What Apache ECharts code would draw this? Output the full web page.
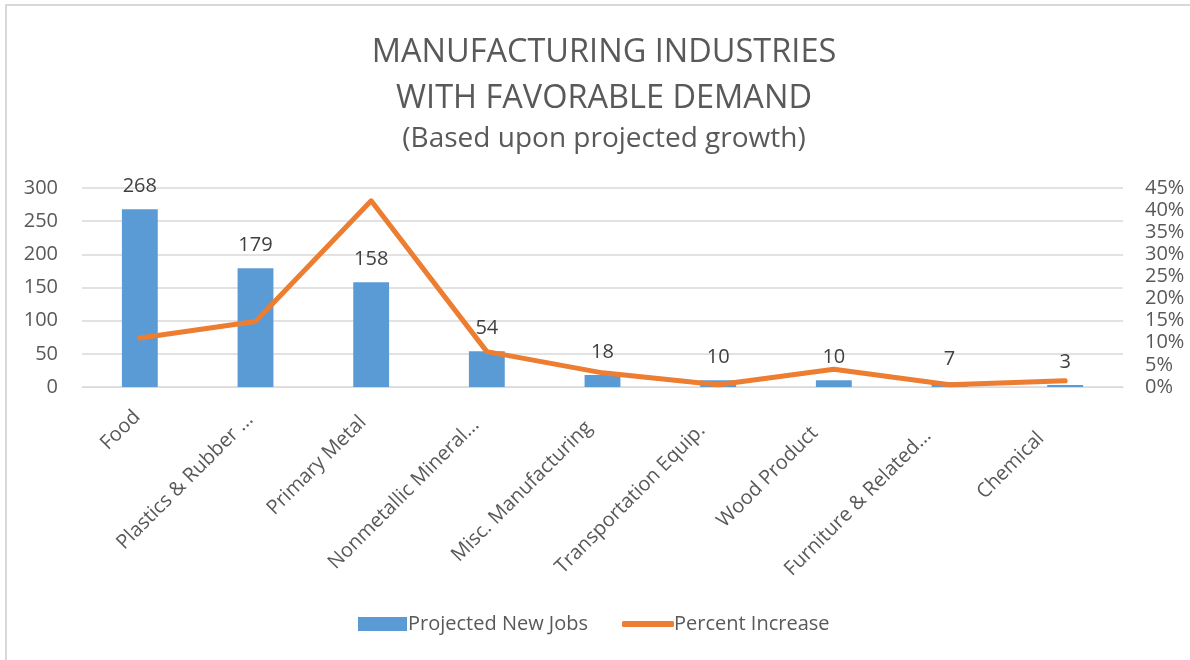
<!DOCTYPE html>
<html>
<head>
<meta charset="utf-8">
<script src="https://cdn.jsdelivr.net/npm/echarts@6/dist/echarts.min.js"></script>
<style>
  html, body { margin: 0; padding: 0; background: #fff; overflow: hidden; }
  #frame { position: absolute; left: 5px; top: 4px; width: 1200px; height: 680px; border: 2px solid #d9d9d9; box-sizing: border-box; }
  #chart { position: absolute; left: 0; top: 0; width: 1190px; height: 660px; }
</style>
</head>
<body>
<div id="frame"></div>
<div id="chart"></div>
<script>
// Industries ranked by projected new jobs
const categories = [
  'Food', 'Plastics & Rubber ...', 'Primary Metal', 'Nonmetallic Mineral...',
  'Misc. Manufacturing', 'Transportation Equip.', 'Wood Product',
  'Furniture & Related...', 'Chemical'
];
const projectedNewJobs = [268, 179, 158, 54, 18, 10, 10, 7, 3];
// Percent increase, as fractions
const percentIncrease = [0.111, 0.148, 0.421, 0.080, 0.032, 0.005, 0.040, 0.005, 0.014];
const jobTicks = [0, 50, 100, 150, 200, 250, 300];
const pctTicks = [0, 0.05, 0.10, 0.15, 0.20, 0.25, 0.30, 0.35, 0.40, 0.45];

const FONT = '"Open Sans", "Liberation Sans", sans-serif';
const TEXT = '#595959';
const TITLE_X = 599;

// Slanted category labels sit slightly further down their slant toward the right
const categoryItems = categories.map((name, i) => ({
  value: name,
  textStyle: { padding: [0, 4 + 3.8 * i, 0, 0] }
}));

const chart = echarts.init(document.getElementById('chart'), null, { renderer: 'canvas' });
chart.setOption({
  backgroundColor: 'transparent',
  animation: false,
  textStyle: { fontFamily: FONT },
  title: [
    {
      text: 'MANUFACTURING INDUSTRIES\nWITH FAVORABLE DEMAND',
      left: TITLE_X, top: 25, textAlign: 'center',
      textStyle: { fontFamily: FONT, fontSize: 32.5, fontWeight: 'normal', color: TEXT, lineHeight: 46 }
    },
    {
      text: '(Based upon projected growth)',
      left: TITLE_X, top: 120, textAlign: 'center',
      textStyle: { fontFamily: FONT, fontSize: 28, fontWeight: 'normal', color: TEXT }
    }
  ],
  legend: [
    {
      data: ['Projected New Jobs'],
      left: 353, top: 609,
      itemWidth: 49, itemHeight: 14, icon: 'rect',
      textStyle: { fontFamily: FONT, fontSize: 20, color: TEXT, padding: [0, 0, 0, -4] }
    },
    {
      data: ['Percent Increase'],
      left: 617, top: 609,
      itemWidth: 52, itemHeight: 6, icon: 'roundRect',
      textStyle: { fontFamily: FONT, fontSize: 20, color: TEXT, padding: [0, 0, 0, -5] }
    }
  ],
  grid: { left: 82, right: 67, top: 188, bottom: 273, containLabel: false },
  xAxis: {
    type: 'category',
    data: categoryItems,
    axisLine: { show: true, lineStyle: { color: '#d9d9d9', width: 1 } },
    axisTick: { show: false },
    axisLabel: {
      interval: 0, rotate: 45, margin: 24,
      fontFamily: FONT, fontSize: 20, color: TEXT
    }
  },
  yAxis: [
    {
      type: 'value', min: jobTicks[0], max: jobTicks[jobTicks.length - 1], interval: 50,
      axisLine: { show: false }, axisTick: { show: false },
      splitLine: { lineStyle: { color: '#d9d9d9', width: 1.5 } },
      axisLabel: { margin: 24, fontFamily: FONT, fontSize: 20, color: TEXT }
    },
    {
      type: 'value', min: pctTicks[0], max: pctTicks[pctTicks.length - 1], interval: 0.05,
      axisLine: { show: false }, axisTick: { show: false },
      splitLine: { show: false },
      axisLabel: {
        margin: 22, fontFamily: FONT, fontSize: 20, color: TEXT,
        formatter: v => Math.round(v * 100) + '%'
      }
    }
  ],
  series: [
    {
      name: 'Projected New Jobs',
      type: 'bar',
      data: projectedNewJobs,
      barWidth: '31%',
      itemStyle: { color: '#5b9bd5' },
      label: {
        show: true, position: 'top', distance: 13,
        fontFamily: FONT, fontSize: 20, color: '#404040'
      },
      z: 2
    },
    {
      name: 'Percent Increase',
      type: 'line',
      yAxisIndex: 1,
      data: percentIncrease,
      symbol: 'none',
      lineStyle: { color: '#ed7d31', width: 5, cap: 'round', join: 'round' },
      itemStyle: { color: '#ed7d31' },
      z: 3
    }
  ]
});
</script>
</body>
</html>
